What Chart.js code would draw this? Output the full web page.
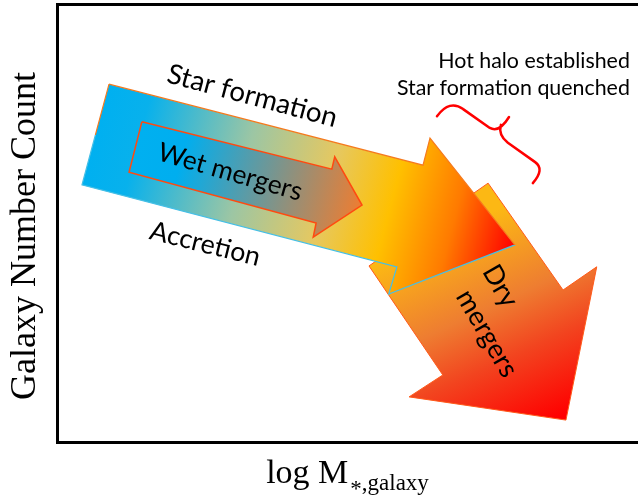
<!DOCTYPE html>
<html>
<head>
<meta charset="utf-8">
<script src="https://cdn.jsdelivr.net/npm/chart.js@4.4.1/dist/chart.umd.min.js"></script>
<style>
  html, body { margin: 0; padding: 0; background: #fff; }
  canvas { display: block; }
</style>
</head>
<body>
<canvas id="diagram" width="638" height="501"></canvas>
<script>
// schematic axes, arbitrary units
var xRange = [0, 100];
var yRange = [0, 100];

// arrow outlines: tail corner -> shoulder -> head -> tip -> head -> shoulder -> tail corner
var mainArrowX = [8.95, 63.0, 64.2, 78.8, 57.1, 58.5, 4.3];
var mainArrowY = [81.7, 63.2, 69.4, 45.0, 33.8, 40.0, 58.7];
var wetArrowX = [14.6, 47.3, 47.8, 52.5, 44.1, 44.6, 12.4];
var wetArrowY = [73.1, 62.3, 65.1, 54.1, 46.8, 50.0, 61.6];
var dryArrowX = [74.2, 87.1, 92.9, 87.6, 60.6, 66.4, 53.7];
var dryArrowY = [59.1, 34.7, 40.0, 5.0, 10.3, 15.3, 40.2];

// curly bracket over the quenching region
var braceX = [65.4, 67.6, 69.9, 74.5, 76.1, 77.8, 76.4, 75.9, 77.6, 82.3, 84.0, 81.9];
var braceY = [74.4, 78.3, 76.0, 71.7, 70.5, 74.2, 72.4, 70.1, 68.3, 63.9, 62.3, 59.1];

var arrowLabels = ['Star formation', 'Wet mergers', 'Accretion', 'Dry', 'mergers'];
var noteLabels = ['Hot halo established', 'Star formation quenched'];
var yTitle = 'Galaxy Number Count';
var xTitle = 'log M';
var xTitleSub = ['*', ',galaxy'];

function closedPath(xs, ys) {
    var pts = xs.map(function (x, i) { return { x: x, y: ys[i] }; });
    pts.push({ x: xs[0], y: ys[0] });
    return pts;
}

function toPixel(chart, p) {
    return [chart.scales.x.getPixelForValue(p[0]), chart.scales.y.getPixelForValue(p[1])];
}

function gradientFromPixels(ctx, a, b, stops) {
    if (!isFinite(a[0]) || !isFinite(a[1]) || !isFinite(b[0]) || !isFinite(b[1])) return stops[0][1];
    var g = ctx.createLinearGradient(a[0], a[1], b[0], b[1]);
    stops.forEach(function (s) { g.addColorStop(s[0], s[1]); });
    return g;
}

function linearFill(chart, from, to, stops) {
    return gradientFromPixels(chart.ctx, toPixel(chart, from), toPixel(chart, to), stops);
}

// outline colour split along the arrow's centre line: upper edge vs lower edge
function splitStroke(chart, from, to, upper, lower) {
    var a = toPixel(chart, from), b = toPixel(chart, to);
    var dx = b[0] - a[0], dy = b[1] - a[1], len = Math.sqrt(dx * dx + dy * dy) || 1;
    var nx = dy / len * 80, ny = -dx / len * 80;
    return gradientFromPixels(chart.ctx, [b[0] + nx, b[1] + ny], [b[0] - nx, b[1] - ny],
        [[0, upper], [0.5, upper], [0.5, lower], [1, lower]]);
}

// tail midpoint -> tip, used as gradient axis
function tailMid(xs, ys) { return [(xs[0] + xs[6]) / 2, (ys[0] + ys[6]) / 2]; }
function tip(xs, ys) { return [xs[3], ys[3]]; }

function fitFont(ctx, text, family, width) {
    ctx.font = '100px ' + family;
    return 100 * width / ctx.measureText(text).width;
}

var annotationPlugin = {
    id: 'annotations',
    afterDatasetsDraw: function (chart) {
        var ctx = chart.ctx, sx = chart.scales.x, sy = chart.scales.y;
        var px = function (v) { return sx.getPixelForValue(v); };
        var py = function (v) { return sy.getPixelForValue(v); };

        // bracket
        ctx.save();
        ctx.strokeStyle = '#ff0000';
        ctx.lineWidth = 2.5;
        ctx.lineCap = 'round';
        ctx.lineJoin = 'round';
        ctx.beginPath();
        ctx.moveTo(px(braceX[0]), py(braceY[0]));
        ctx.quadraticCurveTo(px(braceX[1]), py(braceY[1]), px(braceX[2]), py(braceY[2]));
        ctx.lineTo(px(braceX[3]), py(braceY[3]));
        ctx.quadraticCurveTo(px(braceX[4]), py(braceY[4]), px(braceX[5]), py(braceY[5]));
        ctx.moveTo(px(braceX[6]), py(braceY[6]));
        ctx.quadraticCurveTo(px(braceX[7]), py(braceY[7]), px(braceX[8]), py(braceY[8]));
        ctx.lineTo(px(braceX[9]), py(braceY[9]));
        ctx.quadraticCurveTo(px(braceX[10]), py(braceY[10]), px(braceX[11]), py(braceY[11]));
        ctx.stroke();
        ctx.restore();

        var family = 'Lato, "Open Sans", sans-serif';
        var rotated = [
            { text: arrowLabels[0], x: 33.6, y: 79.0, angle: 15, width: 175 },
            { text: arrowLabels[1], x: 29.8, y: 61.6, angle: 16, width: 149 },
            { text: arrowLabels[2], x: 25.5, y: 45.2, angle: 14, width: 113 },
            { text: arrowLabels[3], x: 76.3, y: 35.6, angle: 60 },
            { text: arrowLabels[4], x: 74.0, y: 24.8, angle: 60 }
        ];
        var dryMergersSize = fitFont(ctx, arrowLabels[4], family, 96);
        ctx.save();
        ctx.fillStyle = '#000';
        ctx.textAlign = 'center';
        ctx.textBaseline = 'middle';
        rotated.forEach(function (a, i) {
            var size = i >= 3 ? dryMergersSize : fitFont(ctx, a.text, family, a.width);
            ctx.save();
            ctx.translate(px(a.x), py(a.y));
            ctx.rotate(a.angle * Math.PI / 180);
            ctx.font = size + 'px ' + family;
            ctx.fillText(a.text, 0, 0);
            ctx.restore();
        });

        var noteSize = fitFont(ctx, noteLabels[1], family, 233);
        ctx.font = noteSize + 'px ' + family;
        ctx.textAlign = 'right';
        ctx.textBaseline = 'alphabetic';
        ctx.fillText(noteLabels[0], px(98.6), py(85.4));
        ctx.fillText(noteLabels[1], px(98.6), py(79.2));
        ctx.restore();
    },
    afterDraw: function (chart) {
        var ctx = chart.ctx, area = chart.chartArea;
        var serif = '"Liberation Serif", "Times New Roman", serif';
        ctx.save();
        ctx.fillStyle = '#000';
        // y title
        ctx.translate(35, area.top + 232);
        ctx.rotate(-Math.PI / 2);
        ctx.font = '36px ' + serif;
        ctx.textAlign = 'center';
        ctx.textBaseline = 'alphabetic';
        ctx.fillText(yTitle, 0, 0);
        ctx.restore();

        // x title with lowered asterisk and subscript
        ctx.save();
        ctx.fillStyle = '#000';
        ctx.textBaseline = 'alphabetic';
        ctx.textAlign = 'left';
        ctx.font = '34px ' + serif;
        var mainW = ctx.measureText(xTitle).width;
        ctx.font = '23px ' + serif;
        var starW = ctx.measureText(xTitleSub[0]).width;
        var restW = ctx.measureText(xTitleSub[1]).width;
        var startX = (area.left + area.right) / 2 - (mainW + 2 + starW + restW) / 2;
        var base = area.bottom + 41;
        ctx.font = '34px ' + serif;
        ctx.fillText(xTitle, startX, base);
        ctx.font = '23px ' + serif;
        ctx.fillText(xTitleSub[0], startX + mainW + 2, base + 13);
        ctx.fillText(xTitleSub[1], startX + mainW + 2 + starW, base + 7);
        ctx.restore();
    }
};

var hiddenAxis = function (position) {
    return {
        type: 'linear',
        position: position,
        min: position === 'left' ? yRange[0] : xRange[0],
        max: position === 'left' ? yRange[1] : xRange[1],
        ticks: { display: false },
        grid: { display: false, drawTicks: false },
        border: { display: true, color: '#000', width: 3 }
    };
};

var xTop = hiddenAxis('top');
xTop.axis = 'x';

new Chart(document.getElementById('diagram').getContext('2d'), {
    type: 'scatter',
    data: {
        datasets: [{
            label: 'Wet mergers',
            data: closedPath(wetArrowX, wetArrowY),
            showLine: true,
            fill: 'shape',
            tension: 0,
            pointRadius: 0,
            borderColor: '#ff4a10',
            borderWidth: 1.5,
            backgroundColor: function (c) {
                return linearFill(c.chart, tailMid(wetArrowX, wetArrowY), tip(wetArrowX, wetArrowY),
                    [[0, '#00b0f0'], [0.2, '#00aeef'], [1, '#ee7d31']]);
            },
            order: 1
        }, {
            label: 'Star formation / Accretion',
            data: closedPath(mainArrowX, mainArrowY),
            showLine: true,
            fill: 'shape',
            tension: 0,
            pointRadius: 0,
            borderWidth: 1.2,
            borderColor: function (c) {
                return splitStroke(c.chart, tailMid(mainArrowX, mainArrowY), tip(mainArrowX, mainArrowY),
                    '#f57a1e', '#45bfe6');
            },
            backgroundColor: function (c) {
                return linearFill(c.chart, tailMid(mainArrowX, mainArrowY), tip(mainArrowX, mainArrowY),
                    [[0, '#00b0f0'], [0.1, '#08b1ec'], [0.35, '#9cc6a4'], [0.55, '#e6c860'],
                     [0.7, '#ffc000'], [0.85, '#ff7a00'], [1, '#ff0000']]);
            },
            order: 2
        }, {
            label: 'Dry mergers',
            data: closedPath(dryArrowX, dryArrowY),
            showLine: true,
            fill: 'shape',
            tension: 0,
            pointRadius: 0,
            borderColor: '#ff5a1a',
            borderWidth: 1,
            backgroundColor: function (c) {
                return linearFill(c.chart, [65.9, 47.1], [81.4, 2.5],
                    [[0, '#fcb814'], [0.4, '#ee7d31'], [0.65, '#f2441f'], [1, '#ff0000']]);
            },
            order: 3
        }]
    },
    options: {
        responsive: false,
        animation: false,
        events: [],
        layout: { padding: { left: 57, top: 4, right: 0, bottom: 59 } },
        scales: {
            x: hiddenAxis('bottom'),
            x2: xTop,
            y: hiddenAxis('left')
        },
        plugins: {
            legend: { display: false },
            tooltip: { enabled: false }
        }
    },
    plugins: [annotationPlugin]
});
</script>
</body>
</html>
